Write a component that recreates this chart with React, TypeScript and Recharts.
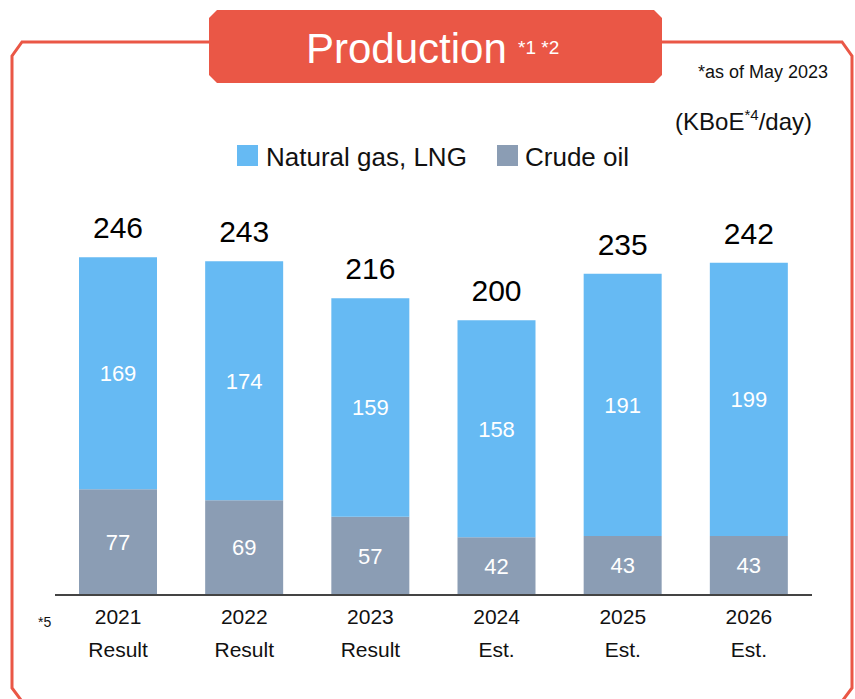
import React from 'react';
import { BarChart, Bar, XAxis, YAxis, LabelList } from 'recharts';

const years = ['2021', '2022', '2023', '2024', '2025', '2026'];
const kinds = ['Result', 'Result', 'Result', 'Est.', 'Est.', 'Est.'];
const gasLng = [169, 174, 159, 158, 191, 199];
const crudeOil = [77, 69, 57, 42, 43, 43];
const totals = [246, 243, 216, 200, 235, 242];

const data = years.map((y, i) => ({
  year: y,
  kind: kinds[i],
  gas: gasLng[i],
  oil: crudeOil[i],
  total: totals[i],
}));

const RED = '#EA5746';
const BLUE = '#66BAF3';
const GRAY = '#8B9DB4';
const FONT = '"Liberation Sans", Arial, sans-serif';

const Tick = (props: any) => {
  const { x, y, payload, index } = props;
  return (
    <g>
      <text x={x} y={y + 21} textAnchor="middle" fontSize={21} fill="#111" fontFamily={FONT}>
        {payload.value}
      </text>
      <text x={x} y={y + 54} textAnchor="middle" fontSize={21} fill="#111" fontFamily={FONT}>
        {kinds[index]}
      </text>
    </g>
  );
};

export default function App() {
  return (
    <div style={{ position: 'absolute', left: 0, top: 0, width: 855, height: 699, background: '#fff', fontFamily: FONT }}>
      <svg width={855} height={699} style={{ position: 'absolute', left: 0, top: 0 }}>
        <path
          d="M 210 42 L 22 42 L 12 56 L 12 688 L 24 704 M 662 42 L 842 42 L 852 56 L 852 688 L 840 704"
          fill="none"
          stroke={RED}
          strokeWidth={3}
        />
        <path
          d="M 217 10 L 654 10 L 662 18 L 662 75 L 654 83 L 217 83 L 209 75 L 209 18 Z"
          fill={RED}
        />
        <text x={306} y={63} fontSize={42} fill="#fff" fontFamily={FONT}>
          Production
        </text>
        <text x={518} y={54} fontSize={19} fill="#fff" fontFamily={FONT}>
          *1 *2
        </text>
        <text x={828} y={78} textAnchor="end" fontSize={18} fill="#111" fontFamily={FONT}>
          *as of May 2023
        </text>
        <text x={812} y={130} textAnchor="end" fontSize={24} fill="#111" fontFamily={FONT}>
          (KBoE<tspan fontSize={15} dy={-10}>*4</tspan><tspan dy={10}>/day)</tspan>
        </text>
        <rect x={237} y={145} width={21} height={21} fill={BLUE} />
        <text x={266} y={166} fontSize={26} fill="#111" fontFamily={FONT}>
          Natural gas, LNG
        </text>
        <rect x={497} y={145} width={21} height={21} fill={GRAY} />
        <text x={525} y={166} fontSize={26} fill="#111" fontFamily={FONT}>
          Crude oil
        </text>
        <text x={38} y={627} fontSize={14} fill="#111" fontFamily={FONT}>
          *5
        </text>
      </svg>
      <div style={{ position: 'absolute', left: 0, top: 0 }}>
        <BarChart
          width={855}
          height={699}
          data={data}
          margin={{ top: 183, right: 43, bottom: 44, left: 55 }}
          barSize={78}
        >
          <YAxis hide domain={[0, 300]} />
          <XAxis
            dataKey="year"
            axisLine={{ stroke: '#444', strokeWidth: 2 }}
            tickLine={false}
            height={60}
            interval={0}
            tick={<Tick />}
          />
          <Bar dataKey="oil" stackId="a" fill={GRAY} isAnimationActive={false}>
            <LabelList dataKey="oil" position="center" fill="#fff" fontSize={22} fontFamily={FONT} />
          </Bar>
          <Bar dataKey="gas" stackId="a" fill={BLUE} isAnimationActive={false}>
            <LabelList dataKey="gas" position="center" fill="#fff" fontSize={22} fontFamily={FONT} />
            <LabelList dataKey="total" position="top" offset={19} fill="#000" fontSize={30} fontFamily={FONT} />
          </Bar>
        </BarChart>
      </div>
    </div>
  );
}
